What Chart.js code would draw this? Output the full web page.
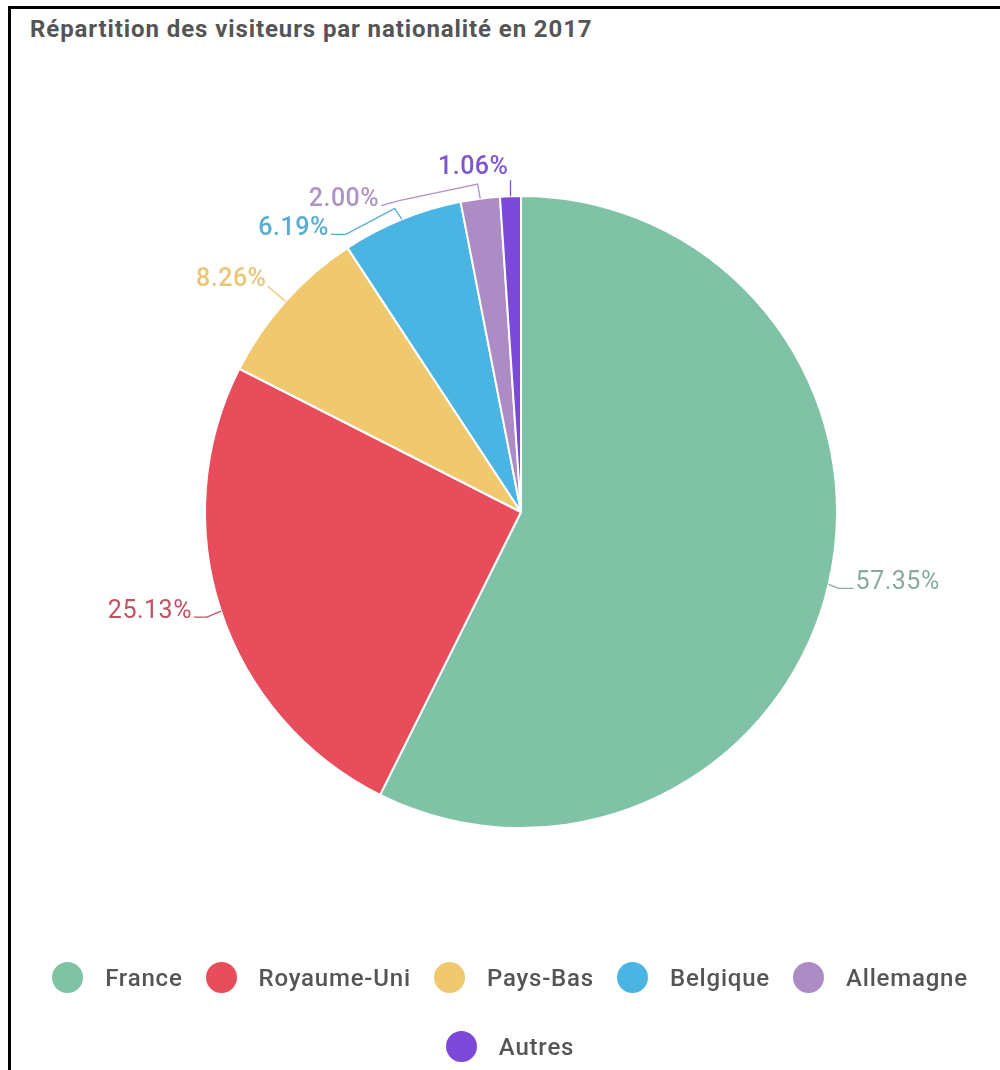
<!DOCTYPE html>
<html lang="fr">
<head>
<meta charset="utf-8">
<title>Répartition des visiteurs par nationalité en 2017</title>
<script src="https://cdn.jsdelivr.net/npm/chart.js@4/dist/chart.umd.min.js"></script>
<style>
  html, body { margin: 0; padding: 0; background: #fff; }
  body { width: 1000px; height: 1070px; position: relative; overflow: hidden; font-family: Roboto, "Noto Sans", sans-serif; }
  #frame { position: absolute; left: 8px; top: 6px; right: 0; bottom: 0; border-left: 3px solid #000; border-top: 3px solid #000; }
  #title { position: absolute; left: 30px; top: 15px; font-size: 24px; font-weight: 700; color: #555; white-space: nowrap; letter-spacing: 0.9px; }
  #chart { position: absolute; left: 0; top: 0; }
  #legend { position: absolute; left: 20px; width: 980px; top: 962px; display: flex; flex-wrap: wrap; justify-content: center; row-gap: 38px; }
  .item { display: flex; align-items: center; margin: 0 11.5px; height: 31px; }
  .dot { width: 31px; height: 31px; border-radius: 50%; margin-right: 22px; }
  .txt { font-size: 24px; font-weight: 500; color: #555; letter-spacing: 0.8px; }
</style>
</head>
<body>
<div id="frame"></div>
<div id="title">Répartition des visiteurs par nationalité en 2017</div>
<canvas id="chart" width="1000" height="1070"></canvas>
<div id="legend"></div>
<script>
// Données
const categories = ['France', 'Royaume-Uni', 'Pays-Bas', 'Belgique', 'Allemagne', 'Autres'];
const shares = [57.35, 25.13, 8.26, 6.19, 2.00, 1.06];

const sliceColors = ['#7fc2a5', '#e84d5b', '#f0c96e', '#4ab5e3', '#ad8cc6', '#7b48d8'];
const labelColors = ['#88ab9c', '#c2525f', '#e9c677', '#58add2', '#ae94c6', '#7d55d2'];

// tracé des étiquettes : décalages relatifs au bord de chaque part
const leaders = [
    { path: [[10, 4], [25, 4]], label: [27, 5], align: 'left', weight: 400 },
    { path: [[-14, 6], [-27, 6]], label: [-29, 7], align: 'right', weight: 400 },
    { path: [[-18, -15]], label: [-19, -15], align: 'right', weight: 500 },
    { path: [[-7, -11], [-56, 15], [-71, 15]], label: [-73, 15.5], align: 'right', weight: 500 },
    { path: [[-2.5, -14.5], [-81, 2], [-99, 7]], label: [-101, 7], align: 'right', weight: 500 },
    { path: [[0, -16]], label: [-2, -22], align: 'right', weight: 500 }
];

const outsideLabels = {
    id: 'outsideLabels',
    afterDatasetsDraw(chart) {
        const ctx = chart.ctx;
        const meta = chart.getDatasetMeta(0);
        ctx.save();
        ctx.textBaseline = 'alphabetic';
        ctx.letterSpacing = '0.5px';
        meta.data.forEach((arc, i) => {
            const p = arc.getProps(['x', 'y', 'startAngle', 'endAngle', 'outerRadius'], true);
            const mid = (p.startAngle + p.endAngle) / 2;
            const x0 = p.x + Math.cos(mid) * p.outerRadius;
            const y0 = p.y + Math.sin(mid) * p.outerRadius;
            const l = leaders[i];
            ctx.strokeStyle = labelColors[i];
            ctx.lineWidth = 1.3;
            ctx.beginPath();
            ctx.moveTo(x0, y0);
            l.path.forEach(pt => ctx.lineTo(x0 + pt[0], y0 + pt[1]));
            ctx.stroke();
            ctx.font = l.weight + ' 25px Roboto';
            ctx.fillStyle = labelColors[i];
            ctx.textAlign = l.align;
            ctx.fillText(shares[i].toFixed(2) + '%', x0 + l.label[0], y0 + l.label[1]);
        });
        ctx.restore();
    }
};

window.onload = () => {
    const ctx = document.getElementById('chart').getContext('2d');
    new Chart(ctx, {
        type: 'pie',
        data: {
            labels: categories,
            datasets: [{
                data: shares,
                backgroundColor: sliceColors,
                borderColor: '#ffffff',
                borderWidth: 2
            }]
        },
        options: {
            responsive: false,
            animation: false,
            devicePixelRatio: 1,
            layout: { padding: { left: 204, right: 162, top: 195, bottom: 241 } },
            plugins: {
                legend: { display: false },
                tooltip: { enabled: false }
            }
        },
        plugins: [outsideLabels]
    });

    // légende HTML
    const legend = document.getElementById('legend');
    categories.forEach((name, i) => {
        const item = document.createElement('div');
        item.className = 'item';
        item.innerHTML = '<span class="dot" style="background:' + sliceColors[i] + '"></span><span class="txt">' + name + '</span>';
        legend.appendChild(item);
    });
};
</script>
</body>
</html>
